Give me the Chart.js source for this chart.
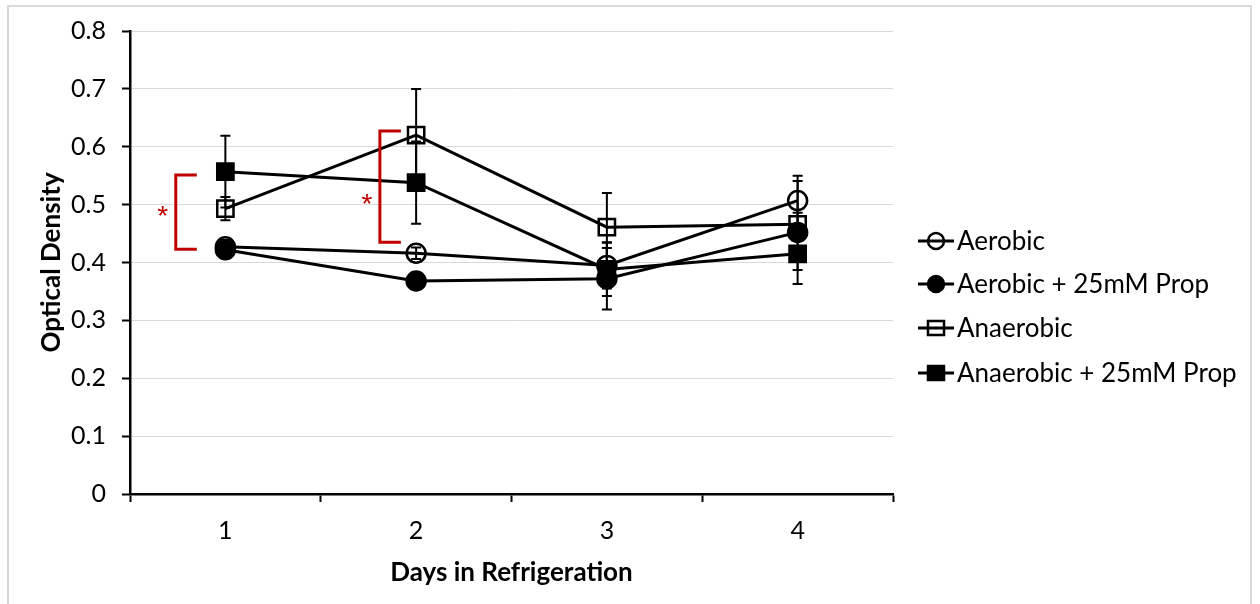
<!DOCTYPE html>
<html>
<head>
<meta charset="utf-8">
<script src="https://cdn.jsdelivr.net/npm/chart.js@4"></script>
<style>
  html, body { margin: 0; padding: 0; background: #fff; }
  #wrap { position: relative; width: 1260px; height: 604px; }
  #frame { position: absolute; left: 7px; top: 5px; width: 1245px; height: 640px; border: 2px solid #d9d9d9; box-sizing: border-box; }
  canvas { position: absolute; left: 0; top: 0; }
</style>
</head>
<body>
<div id="wrap">
  <div id="frame"></div>
  <canvas id="odChart" width="1260" height="604"></canvas>
</div>
<script>
// Chart data
const days = ["1", "2", "3", "4"];
const yTicks = [0, 0.1, 0.2, 0.3, 0.4, 0.5, 0.6, 0.7, 0.8];

const aerobic = [0.427, 0.416, 0.395, 0.507];
const aerobicErr = [0.012, 0.01, 0.04, 0.043];
const aerobicProp = [0.422, 0.368, 0.372, 0.452];
const aerobicPropErr = [0.015, 0.01, 0.053, 0.089];
const anaerobic = [0.493, 0.620, 0.461, 0.466];
const anaerobicErr = [0.02, 0.08, 0.059, 0.02];
const anaerobicProp = [0.557, 0.538, 0.388, 0.415];
const anaerobicPropErr = [0.062, 0.071, 0.046, 0.028];

// significance brackets (day index, top value, bottom value, asterisk value)
const bracketDay = [0, 1];
const bracketTop = [0.551, 0.627];
const bracketBottom = [0.423, 0.435];
const starValue = [0.486, 0.508];
const bracketOffset = [-0.26, -0.19];

const FONT = "Lato, 'Liberation Sans', sans-serif";

function makeSet(label, data, err, style, filled) {
  return {
    label: label,
    data: data,
    errors: err,
    borderColor: "#000",
    borderWidth: 3,
    backgroundColor: filled ? "#000" : "rgba(0,0,0,0)",
    pointStyle: style,
    pointRadius: style === "rect" ? 11.5 : 9.5,
    pointBorderWidth: 2.5,
    pointBorderColor: "#000",
    pointBackgroundColor: filled ? "#000" : "rgba(0,0,0,0)",
    tension: 0,
    fill: false,
  };
}

// error bars drawn through the scales
const errorBars = {
  id: "errorBars",
  afterDatasetsDraw(chart) {
    const ctx = chart.ctx;
    const y = chart.scales.y;
    ctx.save();
    ctx.strokeStyle = "#000";
    ctx.lineWidth = 2;
    chart.data.datasets.forEach((ds, i) => {
      const meta = chart.getDatasetMeta(i);
      meta.data.forEach((pt, j) => {
        const v = ds.data[j], e = ds.errors[j];
        const top = y.getPixelForValue(v + e);
        const bot = y.getPixelForValue(v - e);
        ctx.beginPath();
        ctx.moveTo(pt.x, top); ctx.lineTo(pt.x, bot);
        ctx.moveTo(pt.x - 5, top); ctx.lineTo(pt.x + 5, top);
        ctx.moveTo(pt.x - 5, bot); ctx.lineTo(pt.x + 5, bot);
        ctx.stroke();
      });
    });
    ctx.restore();
  },
};

// red significance brackets with asterisks
const brackets = {
  id: "brackets",
  afterDatasetsDraw(chart) {
    const ctx = chart.ctx;
    const x = chart.scales.x, y = chart.scales.y;
    const step = x.getPixelForValue(1) - x.getPixelForValue(0);
    ctx.save();
    ctx.strokeStyle = "#c00000";
    ctx.fillStyle = "#c00000";
    ctx.lineWidth = 3;
    bracketDay.forEach((d, i) => {
      const bx = x.getPixelForValue(d) + bracketOffset[i] * step;
      const t = y.getPixelForValue(bracketTop[i]);
      const b = y.getPixelForValue(bracketBottom[i]);
      ctx.beginPath();
      ctx.moveTo(bx + 21, t); ctx.lineTo(bx, t); ctx.lineTo(bx, b); ctx.lineTo(bx + 21, b);
      ctx.stroke();
      ctx.font = "28px 'Liberation Sans', sans-serif";
      ctx.textAlign = "center";
      ctx.textBaseline = "middle";
      ctx.fillText("*", bx - 13, y.getPixelForValue(starValue[i]) + 5);
    });
    ctx.restore();
  },
};

// legend with line-through-marker swatches
const sideLegend = {
  id: "sideLegend",
  afterDraw(chart) {
    const ctx = chart.ctx;
    const rows = [241, 284, 328, 373];
    ctx.save();
    chart.data.datasets.forEach((ds, i) => {
      const cy = rows[i];
      ctx.strokeStyle = "#000";
      ctx.lineWidth = 3;
      ctx.beginPath();
      ctx.moveTo(918, cy); ctx.lineTo(954, cy);
      ctx.stroke();
      ctx.lineWidth = 2.5;
      ctx.fillStyle = ds.pointBackgroundColor;
      ctx.beginPath();
      if (ds.pointStyle === "circle") {
        ctx.arc(936, cy, 8, 0, Math.PI * 2);
      } else {
        ctx.rect(928, cy - 7, 16, 14);
      }
      ctx.fill();
      ctx.stroke();
      ctx.fillStyle = "#000";
      ctx.font = "26px " + FONT;
      ctx.textAlign = "left";
      ctx.textBaseline = "middle";
      ctx.fillText(ds.label, 957, cy + 1);
    });
    ctx.restore();
  },
};

function initChart() {
  const ctx = document.getElementById("odChart");
  new Chart(ctx, {
    type: "line",
    data: {
      labels: days,
      datasets: [
        makeSet("Aerobic", aerobic, aerobicErr, "circle", false),
        makeSet("Aerobic + 25mM Prop", aerobicProp, aerobicPropErr, "circle", true),
        makeSet("Anaerobic", anaerobic, anaerobicErr, "rect", false),
        makeSet("Anaerobic + 25mM Prop", anaerobicProp, anaerobicPropErr, "rect", true),
      ],
    },
    options: {
      responsive: false,
      animation: false,
      layout: { padding: { left: 32, top: 31, right: 367, bottom: 12 } },
      plugins: { legend: { display: false }, tooltip: { enabled: false } },
      scales: {
        x: {
          offset: true,
          grid: { offset: true, drawOnChartArea: false, tickColor: "#000", tickLength: 8, tickWidth: 2 },
          border: { color: "#000", width: 2.5 },
          ticks: { color: "#000", font: { family: FONT, size: 25 }, padding: 14 },
          title: { display: true, text: "Days in Refrigeration", color: "#000", font: { family: FONT, size: 26, weight: "bold" }, padding: { top: 6 } },
          afterFit(scale) { scale.height = 98; },
        },
        y: {
          min: 0,
          max: 0.8,
          afterBuildTicks(scale) { scale.ticks = yTicks.map((v) => ({ value: v })); },
          grid: { color: "#d9d9d9", lineWidth: 1, tickColor: "#000", tickLength: 8, tickWidth: 2 },
          border: { color: "#000", width: 2.5 },
          ticks: { color: "#000", font: { family: FONT, size: 25 }, padding: 16,
            callback: (v) => (v === 0 ? "0" : v.toFixed(1)) },
          title: { display: true, text: "Optical Density", color: "#000", font: { family: FONT, size: 26, weight: "bold" }, padding: { bottom: 2 } },
          afterFit(scale) { scale.width = 98; },
        },
      },
    },
    plugins: [errorBars, brackets, sideLegend],
  });
}

document.addEventListener("DOMContentLoaded", initChart);
</script>
</body>
</html>
